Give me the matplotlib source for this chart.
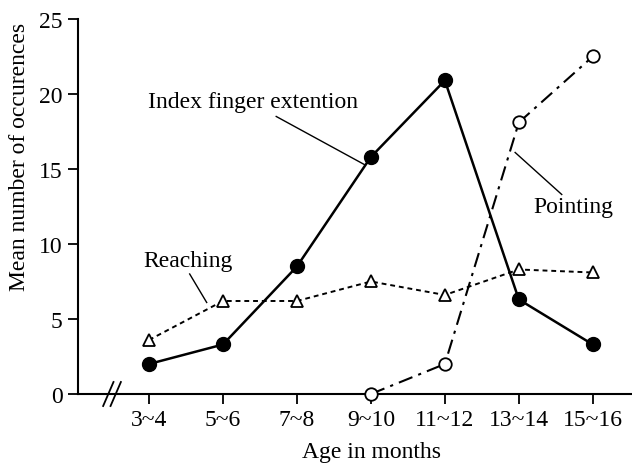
import matplotlib

matplotlib.use("Agg")
import matplotlib.pyplot as plt

ages = ["3~4", "5~6", "7~8", "9~10", "11~12", "13~14", "15~16"]
index_finger = [2.0, 3.3, 8.5, 15.8, 20.9, 6.3, 3.3]
reaching = [3.6, 6.2, 6.2, 7.5, 6.6, 8.3, 8.1]
pointing_ages = ["9~10", "11~12", "13~14", "15~16"]
pointing = [0.0, 2.0, 18.1, 22.5]
y_ticks = [0, 5, 10, 15, 20, 25]

plt.rcParams["font.family"] = ["Liberation Serif", "DejaVu Serif"]
plt.rcParams["font.size"] = 17

fig = plt.figure(figsize=(6.32, 4.64), dpi=100)
ax = fig.add_axes([0.1234, 0.1487, 0.8766, 0.8083])

xs = list(range(len(ages)))
px = [ages.index(a) for a in pointing_ages]

ax.plot(xs, reaching, color="black", linestyle=(0, (2.5, 2)), linewidth=1.4,
        marker="^", markersize=9, markerfacecolor="white", markeredgecolor="black",
        markeredgewidth=1.3, zorder=3)
ax.plot(px, pointing, color="black", linestyle=(0, (7, 3, 1.5, 3)), linewidth=1.5,
        marker="o", markersize=9, markerfacecolor="white", markeredgecolor="black",
        markeredgewidth=1.3, zorder=4, clip_on=False)
ax.plot(xs, index_finger, color="black", linestyle="-", linewidth=1.8,
        marker="o", markersize=10, markerfacecolor="black", markeredgecolor="black",
        zorder=5)

ax.set_xlim(-0.96, 6.53)
ax.set_ylim(0, 25)
ax.set_xticks(xs)
ax.set_xticklabels(ages)
ax.set_yticks(y_ticks)
ax.spines["top"].set_visible(False)
ax.spines["right"].set_visible(False)
ax.spines["left"].set_linewidth(1.5)
ax.spines["bottom"].set_linewidth(1.5)
ax.tick_params(direction="out", length=7, width=1.3, pad=4)

ax.set_xlabel("Age in months", va="center")
ax.xaxis.set_label_coords(0.53, -0.152)
ax.set_ylabel("Mean number of occurences", va="center")
ax.yaxis.set_label_coords(-0.105, 0.635)

# axis break marks
for dx in (-0.55, -0.45):
    ax.plot([dx - 0.07, dx + 0.07], [-0.8, 0.8], color="black", linewidth=1.3,
            clip_on=False, zorder=6)

# labels with leader lines
ax.text(-0.02, 19.5, "Index finger extention", ha="left", va="center")
ax.plot([1.72, 2.91], [18.5, 15.3], color="black", linewidth=1.0)
ax.text(5.19, 12.5, "Pointing", ha="left", va="center")
ax.plot([4.95, 5.58], [16.1, 13.3], color="black", linewidth=1.0)
ax.text(-0.08, 8.9, "Reaching", ha="left", va="center")
ax.plot([0.55, 0.78], [8.0, 6.1], color="black", linewidth=1.0)

fig.savefig("out.png", dpi=100)
